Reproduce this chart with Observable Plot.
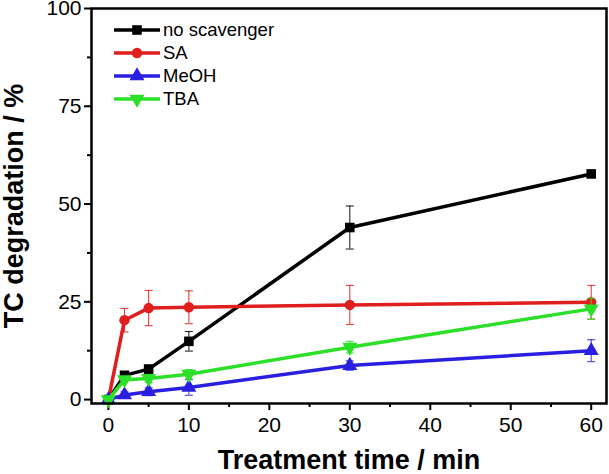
<!DOCTYPE html>
<html>
<head>
<meta charset="utf-8">
<script src="https://cdn.jsdelivr.net/npm/d3@7"></script>
<script src="https://cdn.jsdelivr.net/npm/@observablehq/plot@0.6"></script>
<style>
  body { margin: 0; background: #fff; }
  #chart { position: relative; width: 609px; height: 474px; }
  #chart svg { font-family: "Liberation Sans", Arial, sans-serif; }
  g[aria-label="x-axis label"] text,
  g[aria-label="y-axis label"] text { font-size: 27px; font-weight: bold; }
  #legend { position: absolute; left: 0; top: 0; }
</style>
</head>
<body>
<div id="chart"></div>
<script>
// time points (min)
const times = [0, 2, 5, 10, 30, 60];

// TC degradation (%) and error bars
const noScavenger    = [0, 6.2, 7.8, 14.9, 44.0, 57.7];
const noScavengerErr = [0, 1.0, 1.0, 2.5, 5.5, 0.6];
const sa             = [0, 20.3, 23.4, 23.6, 24.2, 24.9];
const saErr          = [0, 3.0, 4.5, 4.2, 5.0, 4.3];
const meoh           = [0, 1.2, 2.0, 3.1, 8.7, 12.5];
const meohErr        = [0, 0.8, 1.0, 2.0, 1.2, 2.8];
const tba            = [0, 5.1, 5.4, 6.5, 13.4, 23.2];
const tbaErr         = [0, 0.8, 1.0, 1.2, 1.5, 2.7];

const seriesNames = ["no scavenger", "SA", "MeOH", "TBA"];
const colors = ["#000000", "#e01e1e", "#2a1fe0", "#2ce02a"];

const xTicks = [0, 10, 20, 30, 40, 50, 60];
const xMinor = [5, 15, 25, 35, 45, 55];
const yTicks = [0, 25, 50, 75, 100];
const yMinor = [12.5, 37.5, 62.5, 87.5];

// downward triangle and error-bar cap as custom symbols
const triangleDown = {
  draw(ctx, size) {
    const y = -Math.sqrt(size / (Math.sqrt(3) * 3));
    ctx.moveTo(0, -y * 2);
    ctx.lineTo(-Math.sqrt(3) * y, y);
    ctx.lineTo(Math.sqrt(3) * y, y);
    ctx.closePath();
  }
};
const capLine = {
  draw(ctx, size) {
    const r = Math.sqrt(size / Math.PI);
    ctx.moveTo(-r, 0);
    ctx.lineTo(r, 0);
  }
};
const symbols = ["square", "circle", "triangle", triangleDown];
const symbolR = [5.4, 5.2, 5.6, 5.6];
const legendSymbols = [d3.symbolSquare, d3.symbolCircle, d3.symbolTriangle, triangleDown];

const values = [noScavenger, sa, meoh, tba];
const errors = [noScavengerErr, saErr, meohErr, tbaErr];

const series = seriesNames.map((name, i) => ({
  name,
  color: colors[i],
  rows: times.map((t, j) => ({
    t, v: values[i][j], lo: values[i][j] - errors[i][j], hi: values[i][j] + errors[i][j], e: errors[i][j]
  }))
}));

const marks = [];
series.forEach((s, i) => {
  const withErr = s.rows.filter(d => d.e > 0);
  marks.push(
    Plot.ruleX(withErr, {x: "t", y1: "lo", y2: "hi", stroke: s.color, strokeWidth: 1.1, strokeOpacity: 0.85}),
    Plot.dot(withErr, {x: "t", y: "lo", symbol: capLine, r: 4, stroke: s.color, strokeWidth: 1.1, strokeOpacity: 0.85}),
    Plot.dot(withErr, {x: "t", y: "hi", symbol: capLine, r: 4, stroke: s.color, strokeWidth: 1.1, strokeOpacity: 0.85}),
    Plot.line(s.rows, {x: "t", y: "v", stroke: s.color, strokeWidth: 3.5}),
    Plot.dot(s.rows, {x: "t", y: "v", symbol: symbols[i], r: symbolR[i], fill: s.color, stroke: "none"})
  );
});

const chart = Plot.plot({
  width: 609,
  height: 474,
  marginLeft: 91,
  marginRight: 3,
  marginTop: 8,
  marginBottom: 71,
  style: {fontFamily: "'Liberation Sans', Arial, sans-serif", fontSize: "21px", color: "#000", background: "#fff"},
  x: {domain: [-2.1, 61.9]},
  y: {domain: [-1, 100]},
  marks: [
    Plot.axisX({ticks: xMinor, tickSize: 4, strokeWidth: 2, tickFormat: () => "", label: null}),
    Plot.axisX({ticks: xTicks, tickSize: 7, strokeWidth: 2, tickPadding: 7, fontSize: 21,
      label: "Treatment time / min", labelAnchor: "center", labelOffset: 65, labelArrow: "none"}),
    Plot.axisY({ticks: yMinor, tickSize: 4, strokeWidth: 2, tickFormat: () => "", label: null}),
    Plot.axisY({ticks: yTicks, tickSize: 7, strokeWidth: 2, tickPadding: 3, fontSize: 21,
      label: "TC degradation / %", labelAnchor: "center", labelOffset: 88, labelArrow: "none"}),
    ...marks,
    Plot.frame({stroke: "#000", strokeWidth: 2.5})
  ]
});

const holder = document.getElementById("chart");
holder.appendChild(chart);

// legend overlay in the upper left of the frame
const legend = d3.select(holder).append("svg")
  .attr("id", "legend").attr("width", 609).attr("height", 474);
series.forEach((s, i) => {
  const g = legend.append("g").attr("transform", `translate(0,${30 + i * 23})`);
  g.append("line").attr("x1", 114).attr("x2", 160).attr("y1", 0).attr("y2", 0)
    .attr("stroke", s.color).attr("stroke-width", 3.5);
  g.append("path").attr("transform", "translate(137,0)")
    .attr("d", d3.symbol(legendSymbols[i], Math.PI * symbolR[i] * symbolR[i])())
    .attr("fill", s.color);
  g.append("text").attr("x", 163).attr("y", 0).attr("dy", "0.35em")
    .attr("font-family", "'Liberation Sans', Arial, sans-serif").attr("font-size", 18.5)
    .text(s.name);
});
</script>
</body>
</html>
